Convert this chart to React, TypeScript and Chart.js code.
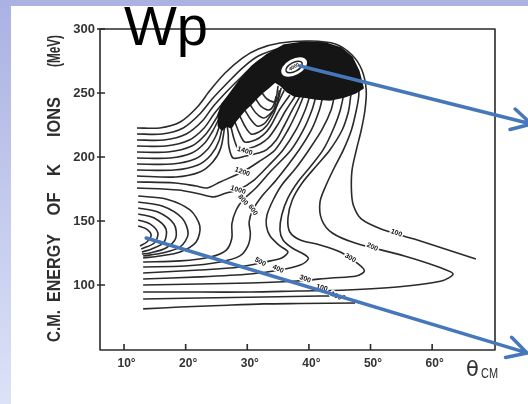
import React, { useEffect, useRef } from "react";
import { Chart, registerables } from "chart.js";

Chart.register(...registerables);

// ---- axis ticks ----
const xTicks = [10, 20, 30, 40, 50, 60];
const yTicks = [100, 150, 200, 250, 300];

// ---- contour lines (theta_CM in degrees, E in MeV) ----
const c100 = [[12.1,222.7],[15.8,222.7],[19.1,227.3],[21.9,239.1],[24.0,252.3],[26.4,265.6],[29.2,277.3],[31.8,284.4],[35.3,289.1],[40.2,290.6],[44.3,288.3],[47.0,279.7],[48.6,268.0],[49.3,252.3],[49.1,236.7],[48.5,221.1],[47.7,205.5],[47.0,189.8],[46.9,174.2],[47.2,162.5],[48.5,151.6],[51.7,143.8],[57.1,135.9],[67.1,120.3]];
const c200 = [[12.1,218.0],[16.2,218.0],[19.6,222.7],[22.3,233.6],[24.3,245.3],[26.6,257.0],[29.2,269.5],[31.8,278.9],[35.6,285.2],[40.2,287.5],[44.1,285.2],[46.7,277.3],[48.0,264.1],[48.1,248.4],[47.7,236.7],[46.9,221.1],[45.6,205.5],[44.1,191.4],[42.8,178.1],[41.8,164.8],[42.1,150.8],[43.8,140.6],[47.5,132.8],[55.5,122.7],[61.5,113.3],[63.4,108.6],[61.5,103.1],[54.3,98.4],[46.2,96.1],[38.1,95.3],[30.5,94.5],[22.3,94.5],[13.1,94.5]];
const c300 = [[12.1,213.3],[16.5,213.3],[20.1,218.0],[22.7,228.1],[24.4,239.1],[26.6,250.8],[29.2,263.3],[32.1,275.8],[36.0,283.6],[40.2,285.9],[44.1,282.8],[46.4,272.7],[47.0,258.6],[46.7,244.5],[46.4,235.2],[45.4,221.1],[43.4,205.5],[41.2,193.0],[38.9,179.7],[37.3,166.4],[36.6,152.3],[36.9,141.4],[38.6,135.2],[41.8,131.3],[45.1,125.8],[48.0,116.4],[49.0,110.9],[47.7,107.0],[43.6,105.5],[38.1,103.1],[30.5,101.6],[22.3,100.8],[13.1,100.0]];
const c400 = [[12.1,208.6],[16.8,208.6],[20.6,213.3],[23.0,222.7],[24.6,233.6],[26.6,245.3],[29.2,260.2],[32.1,272.7],[36.0,280.5],[40.2,283.6],[43.8,279.7],[45.7,268.0],[45.7,252.3],[45.1,236.7],[43.9,221.1],[42.3,205.5],[40.2,192.2],[38.2,180.5],[36.6,168.0],[35.6,154.7],[35.3,143.0],[35.8,135.2],[37.3,128.9],[39.4,123.4],[39.9,120.3],[38.6,115.6],[35.3,111.7],[30.5,108.6],[22.3,106.3],[13.1,104.7]];
const c500 = [[12.1,203.9],[17.1,203.9],[21.0,208.6],[23.3,218.0],[24.8,228.9],[26.2,240.6],[28.2,253.9],[30.5,266.4],[33.4,275.8],[36.9,280.5],[40.5,280.5],[43.1,274.2],[44.4,261.7],[44.1,247.7],[43.6,236.7],[42.1,221.1],[40.0,205.5],[37.9,191.4],[35.6,178.1],[34.2,166.4],[33.2,154.7],[33.1,146.1],[33.7,138.3],[35.3,130.5],[36.6,125.8],[35.6,121.1],[32.9,118.0],[28.8,114.1],[22.3,111.7],[13.1,109.4]];
const tl5 = [[12.1,199.2],[17.5,199.2],[21.0,203.1],[23.1,210.9],[24.4,220.3],[25.3,228.9]];
const tl6 = [[12.1,194.5],[17.8,194.5],[21.5,198.4],[23.6,206.3],[24.9,216.4],[25.6,225.8]];
const tl7 = [[12.1,189.8],[18.1,189.8],[22.0,193.8],[24.1,201.6],[25.4,212.5],[26.1,227.3]];
const tl8 = [[12.1,185.2],[18.4,184.4],[22.3,188.3],[24.4,196.1],[25.7,207.0],[26.4,225.8]];
const d1200 = [[12.1,180.5],[18.3,179.7],[21.7,177.3],[23.5,175.8],[25.6,180.5],[29.2,188.3],[31.8,196.1],[34.5,205.5],[36.6,221.1],[38.2,236.7],[39.2,248.4]];
const d1000 = [[12.1,175.8],[18.8,174.2],[22.3,171.1],[24.6,168.8],[26.6,171.9],[28.5,174.2],[31.1,182.0],[33.4,193.0],[35.8,205.5],[37.9,221.1],[39.4,236.7],[40.2,248.4]];
const d800 = [[13.1,118.0],[19.1,118.8],[24.0,121.9],[26.6,127.3],[27.5,136.7],[27.5,147.7],[28.2,158.6],[29.3,166.4],[31.4,175.8],[33.7,188.3],[37.1,205.5],[39.1,221.1],[40.5,236.7],[41.2,248.4]];
const d600 = [[13.1,114.1],[19.9,114.8],[25.6,118.0],[28.8,122.7],[30.1,130.5],[30.5,139.8],[30.3,149.2],[30.9,158.6],[32.4,169.5],[34.7,182.0],[38.4,205.5],[40.4,221.1],[41.7,236.7],[42.3,248.4]];
const k1400 = [[26.7,225.8],[26.9,218.0],[27.0,208.6],[27.7,199.2],[29.8,200.8],[31.8,203.1],[33.1,205.5],[34.7,213.3],[35.8,222.7],[37.3,236.7],[38.6,247.7]];
const k1600 = [[27.4,222.7],[27.9,213.3],[28.7,205.5],[30.5,207.0],[32.1,210.2],[33.4,214.8],[34.7,223.4],[36.3,236.7],[37.8,247.7]];
const k1800 = [[28.0,227.3],[28.7,218.8],[29.6,211.7],[31.3,213.3],[32.6,217.2],[33.7,223.4],[35.2,236.7],[36.9,248.4]];
const k2000 = [[28.8,232.0],[29.6,224.2],[30.6,218.0],[31.9,219.5],[33.1,224.2],[34.2,232.8],[35.0,242.2],[36.0,252.3]];
const k2200 = [[29.6,236.7],[30.5,229.7],[31.6,224.2],[32.7,225.8],[33.7,232.0],[34.7,239.8],[35.5,253.9]];
const k2400 = [[30.5,240.6],[31.4,234.4],[32.6,230.5],[33.5,232.8],[34.4,238.3],[35.0,255.5]];
const k2600 = [[31.4,245.3],[32.2,239.8],[33.5,236.7],[34.2,239.8],[34.7,247.7]];
const k2800 = [[32.4,250.0],[33.2,245.3],[34.5,243.0],[35.0,246.9],[35.2,252.3]];
const v1 = [[12.3,146.1],[13.6,143.8],[14.4,139.1],[13.7,133.6],[12.6,130.5]];
const v2 = [[12.3,150.8],[14.2,147.7],[15.5,140.6],[14.9,132.8],[12.8,128.1]];
const v3 = [[12.3,155.5],[14.9,152.3],[16.8,143.8],[16.5,133.6],[14.5,128.1],[12.9,125.8]];
const v4 = [[12.3,160.2],[15.5,157.0],[18.1,147.7],[18.4,136.7],[16.8,128.9],[14.2,125.0],[12.9,124.2]];
const v5 = [[12.3,164.8],[16.2,161.7],[19.4,152.3],[20.4,139.8],[19.1,129.7],[16.2,125.0],[13.1,122.7]];
const v6 = [[12.3,169.5],[16.8,167.2],[20.7,158.6],[22.3,146.1],[21.7,133.6],[19.1,125.8],[15.8,122.7],[13.1,121.1]];
const low1 = [[13.1,89.1],[22.3,89.8],[32.7,90.6],[41.8,91.4],[45.9,91.4]];
const low2 = [[13.1,81.3],[19.1,82.8],[25.6,84.0],[32.7,85.2],[38.6,85.5],[47.5,85.9]];

// dense (merged) region near the maximum
const hood = [[25.3,224.2],[25.3,233.6],[25.9,241.4],[26.9,247.7],[28.8,260.2],[30.8,271.1],[33.1,279.7],[36.0,287.5],[39.4,289.8],[42.6,289.1],[45.2,285.2],[47.0,278.1],[48.1,267.2],[48.8,253.9],[47.5,250.0],[45.7,246.9],[43.4,244.5],[41.2,245.3],[39.2,246.9],[37.6,247.7],[36.5,250.8],[35.5,255.5],[34.5,258.6],[33.4,253.9],[32.4,250.0],[31.4,245.3],[30.5,240.6],[29.6,236.7],[28.8,232.0],[28.0,227.3],[27.4,222.7],[26.7,224.2],[25.9,221.1]];
const peak = [37.6, 270.3];

// contour labels
const labelText = ["1400","1200","1000","800","600","500","400","300","100","100","300","200","100"];
const labelX = [29.6,29.2,28.5,29.3,30.9,32.1,35.0,39.4,42.1,44.4,46.7,50.3,54.2];
const labelY = [204.7,188.3,174.2,166.4,158.6,118.0,112.5,104.7,97.7,91.4,121.1,129.7,140.6];
const labelAngle = [18,20,18,50,55,30,25,20,15,25,30,25,22];

// slide arrows (start, end) in data units
const arrowStart = [[38.6,271.1],[13.6,136.7]];
const arrowEnd = [[76.1,225.8],[75.4,46.9]];

const contours = [c100,c200,c300,c400,c500,tl5,tl6,tl7,tl8,d1200,d1000,d800,d600,k1400,k1600,k1800,k2000,k2200,k2400,k2600,k2800,v1,v2,v3,v4,v5,v6,low1,low2];

const overlay = {
  id: "overlay",
  afterDatasetsDraw(chart: any) {
    const { ctx, chartArea: a, scales } = chart;
    const X = (v: number) => scales.x.getPixelForValue(v);
    const Y = (v: number) => scales.y.getPixelForValue(v);
    ctx.save();
    // dark merged region
    ctx.beginPath();
    hood.forEach(([x, y], i) => (i ? ctx.lineTo(X(x), Y(y)) : ctx.moveTo(X(x), Y(y))));
    ctx.closePath();
    ctx.fillStyle = "#151515";
    ctx.fill();
    ctx.lineJoin = "round";
    ctx.strokeStyle = "#151515";
    ctx.lineWidth = 1.5;
    ctx.stroke();
    // peak
    const px = X(peak[0]), py = Y(peak[1]);
    ctx.beginPath();
    ctx.ellipse(px, py, 14, 8, -0.5, 0, Math.PI * 2);
    ctx.fillStyle = "#fff";
    ctx.fill();
    ctx.beginPath();
    ctx.ellipse(px, py, 9, 4.5, -0.5, 0, Math.PI * 2);
    ctx.strokeStyle = "#222";
    ctx.lineWidth = 1.5;
    ctx.stroke();
    ctx.save();
    ctx.translate(px, py);
    ctx.rotate(-0.5);
    ctx.font = 'bold 5px "Liberation Sans"';
    ctx.fillStyle = "#111";
    ctx.textAlign = "center";
    ctx.textBaseline = "middle";
    ctx.fillText("4000", 0, 0);
    ctx.restore();
    // contour labels
    ctx.font = 'bold 7px "Liberation Sans"';
    ctx.textAlign = "center";
    ctx.textBaseline = "middle";
    labelText.forEach((t, i) => {
      ctx.save();
      ctx.translate(X(labelX[i]), Y(labelY[i]));
      ctx.rotate((labelAngle[i] * Math.PI) / 180);
      ctx.lineWidth = 3;
      ctx.strokeStyle = "#fff";
      ctx.strokeText(t, 0, 0);
      ctx.fillStyle = "#111";
      ctx.fillText(t, 0, 0);
      ctx.restore();
    });
    // frame
    ctx.strokeStyle = "#2a2a2a";
    ctx.lineWidth = 1.6;
    ctx.strokeRect(a.left, a.top, a.right - a.left, a.bottom - a.top);
    ctx.beginPath();
    xTicks.forEach((v) => {
      ctx.moveTo(X(v), a.bottom);
      ctx.lineTo(X(v), a.bottom - 6);
    });
    yTicks.forEach((v) => {
      ctx.moveTo(a.left - 3, Y(v));
      ctx.lineTo(a.left + 5, Y(v));
    });
    ctx.stroke();
    // y-axis title (words spaced as in the scan)
    const words = ["(MeV)", "IONS", "K", "OF", "ENERGY", "C.M."];
    const centers = [51, 117, 170, 204, 268, 326];
    const widths = [32, 40, 12, 23, 68, 32];
    ctx.font = 'bold 18px "Liberation Sans"';
    ctx.fillStyle = "#2e2e2e";
    ctx.textAlign = "center";
    ctx.textBaseline = "middle";
    words.forEach((w, i) => {
      ctx.save();
      ctx.translate(55, centers[i]);
      ctx.rotate(-Math.PI / 2);
      ctx.fillText(w, 0, 0, widths[i]);
      ctx.restore();
    });
    // theta_CM
    ctx.textAlign = "left";
    ctx.textBaseline = "alphabetic";
    ctx.font = '21px "DejaVu Sans"';
    ctx.fillStyle = "#2e2e2e";
    ctx.fillText("θ", 466, 376);
    ctx.font = '14px "Liberation Sans"';
    ctx.fillText("CM", 481, 378, 17);
    // arrows
    ctx.strokeStyle = "#4677bb";
    ctx.lineWidth = 3.5;
    ctx.lineCap = "round";
    arrowStart.forEach((s, i) => {
      const x0 = X(s[0]), y0 = Y(s[1]);
      const x1 = X(arrowEnd[i][0]), y1 = Y(arrowEnd[i][1]);
      const ang = Math.atan2(y0 - y1, x0 - x1);
      ctx.beginPath();
      ctx.moveTo(x0, y0);
      ctx.lineTo(x1, y1);
      [0.5, -0.5].forEach((d) => {
        ctx.moveTo(x1, y1);
        ctx.lineTo(x1 + 22 * Math.cos(ang + d), y1 + 22 * Math.sin(ang + d));
      });
      ctx.stroke();
    });
    // slide title
    ctx.font = '56px "Liberation Sans"';
    ctx.fillStyle = "#000";
    ctx.fillText("Wp", 124, 45);
    ctx.restore();
  },
};

export default function App() {
  const ref = useRef<HTMLCanvasElement | null>(null);
  useEffect(() => {
    if (!ref.current) return;
    const chart = new Chart(ref.current, {
      type: "scatter",
      data: {
        datasets: contours.map((pts) => ({
          data: pts.map(([x, y]) => ({ x, y })),
          showLine: true,
          borderColor: "#2a2a2a",
          borderWidth: 1.6,
          pointRadius: 0,
          tension: 0.3,
          fill: false,
        })),
      },
      options: {
        responsive: false,
        animation: false,
        layout: { padding: { left: 0, right: 33, top: 29, bottom: 0 } },
        plugins: { legend: { display: false }, tooltip: { enabled: false }, title: { display: false } },
        scales: {
          x: {
            type: "linear",
            min: 6.1,
            max: 70.2,
            grid: { display: false, drawTicks: false },
            border: { display: false },
            afterBuildTicks: (s: any) => {
              s.ticks = xTicks.map((v) => ({ value: v }));
            },
            afterFit: (s: any) => {
              s.height = 54;
            },
            ticks: {
              autoSkip: false,
              maxRotation: 0,
              padding: 6,
              labelOffset: 2.5,
              color: "#333",
              font: { family: "Liberation Sans", weight: "bold", size: 12 },
              callback: (v: any) => v + "°",
            },
          },
          y: {
            type: "linear",
            min: 49.2,
            max: 300,
            grid: { display: false, drawTicks: false },
            border: { display: false },
            afterBuildTicks: (s: any) => {
              s.ticks = yTicks.map((v) => ({ value: v }));
            },
            afterFit: (s: any) => {
              s.width = 100;
            },
            ticks: {
              autoSkip: false,
              padding: 5,
              color: "#333",
              font: { family: "Liberation Sans", weight: "bold", size: 13 },
              callback: (v: any) => String(v),
            },
          },
        },
      },
      plugins: [overlay],
    } as any);
    return () => chart.destroy();
  }, []);
  return (
    <div style={{ position: "fixed", left: 0, top: 0, width: 528, height: 404, overflow: "hidden", background: "linear-gradient(to bottom, #a9b2e2, #dce2f7)" }}>
      <div style={{ position: "absolute", left: 11, top: 6, right: 0, bottom: 0, background: "#ffffff" }} />
      <canvas ref={ref} width={528} height={404} style={{ position: "absolute", left: 0, top: 0, display: "block" }} />
    </div>
  );
}
